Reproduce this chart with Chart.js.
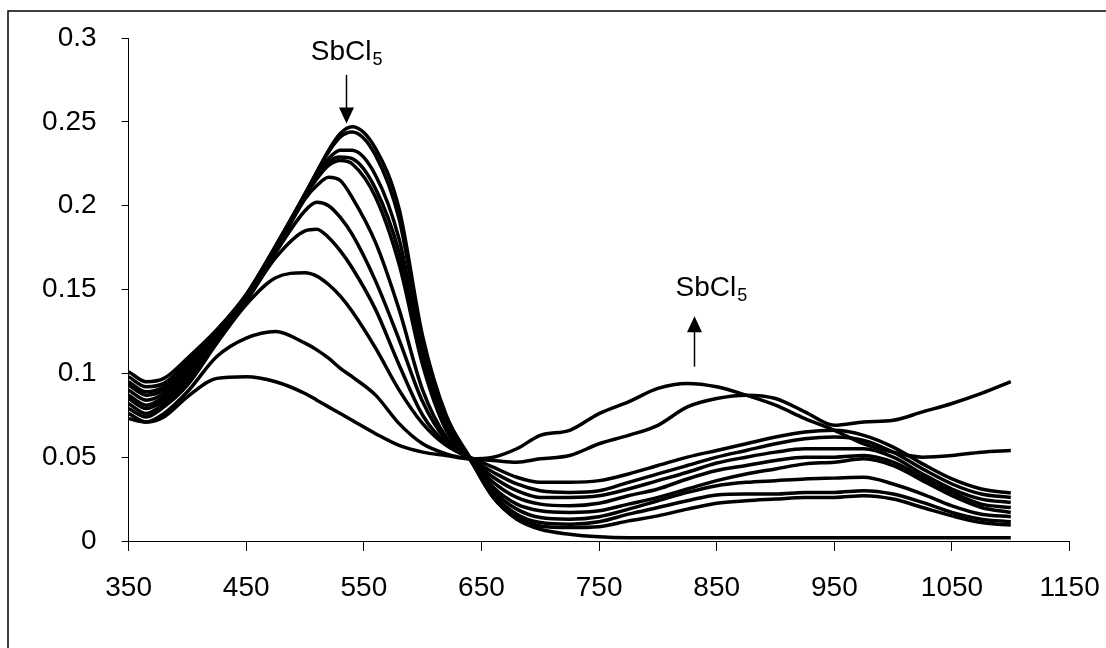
<!DOCTYPE html>
<html>
<head>
<meta charset="utf-8">
<script src="https://cdn.jsdelivr.net/npm/chart.js@4"></script>
<style>
  html, body { margin: 0; padding: 0; background: #fff; }
  canvas { display: block; }
</style>
</head>
<body>
<canvas id="espectros" width="1106" height="648"></canvas>
<script>
// wavelength grid (nm) shared by all spectra
const wavelengths = [350, 365, 380, 400, 425, 450, 475, 500, 510, 520, 530, 540, 560, 580, 600, 620, 640, 660, 680,
  700, 725, 750, 775, 800, 825, 850, 875, 900, 925, 950, 975, 1000, 1025, 1050, 1075, 1100];

// absorbance of each spectrum, from no SbCl5 to the last addition
const abs0 = [0.101, 0.095, 0.097, 0.109, 0.126, 0.147, 0.176, 0.207, 0.220, 0.233, 0.243, 0.247, 0.234, 0.198, 0.122, 0.075, 0.050, 0.026, 0.013,
  0.007, 0.004, 0.0025, 0.002, 0.002, 0.002, 0.002, 0.002, 0.002, 0.002, 0.002, 0.002, 0.002, 0.002, 0.002, 0.002, 0.002];
const abs1 = [0.098, 0.092, 0.094, 0.107, 0.125, 0.147, 0.176, 0.207, 0.220, 0.232, 0.241, 0.244, 0.230, 0.192, 0.118, 0.073, 0.049, 0.026, 0.014,
  0.009, 0.008, 0.0085, 0.012, 0.015, 0.019, 0.0225, 0.024, 0.025, 0.026, 0.026, 0.027, 0.025, 0.020, 0.015, 0.011, 0.0095];
const abs2 = [0.095, 0.089, 0.092, 0.105, 0.124, 0.146, 0.175, 0.206, 0.218, 0.228, 0.233, 0.233, 0.218, 0.180, 0.112, 0.070, 0.049, 0.028, 0.016,
  0.011, 0.010, 0.0115, 0.016, 0.020, 0.024, 0.0275, 0.028, 0.028, 0.029, 0.029, 0.030, 0.028, 0.023, 0.017, 0.013, 0.0115];
const abs3 = [0.093, 0.087, 0.090, 0.103, 0.123, 0.146, 0.175, 0.206, 0.217, 0.226, 0.229, 0.228, 0.210, 0.172, 0.108, 0.068, 0.049, 0.030, 0.019,
  0.014, 0.013, 0.0145, 0.019, 0.024, 0.029, 0.033, 0.035, 0.036, 0.037, 0.0375, 0.038, 0.034, 0.028, 0.021, 0.016, 0.0145];
const abs4 = [0.090, 0.084, 0.088, 0.101, 0.122, 0.145, 0.174, 0.206, 0.216, 0.224, 0.227, 0.225, 0.205, 0.165, 0.105, 0.066, 0.049, 0.032, 0.022,
  0.018, 0.017, 0.018, 0.022, 0.026, 0.031, 0.036, 0.040, 0.043, 0.046, 0.047, 0.049, 0.045, 0.036, 0.027, 0.020, 0.017];
const abs5 = [0.087, 0.081, 0.086, 0.099, 0.121, 0.145, 0.173, 0.204, 0.212, 0.217, 0.215, 0.205, 0.178, 0.138, 0.090, 0.062, 0.049, 0.035, 0.026,
  0.022, 0.021, 0.0225, 0.027, 0.031, 0.037, 0.042, 0.045, 0.048, 0.050, 0.050, 0.051, 0.047, 0.038, 0.029, 0.022, 0.020];
const abs6 = [0.085, 0.079, 0.084, 0.097, 0.120, 0.144, 0.172, 0.197, 0.202, 0.200, 0.193, 0.183, 0.155, 0.120, 0.083, 0.060, 0.049, 0.038, 0.030,
  0.026, 0.026, 0.027, 0.031, 0.036, 0.041, 0.0465, 0.050, 0.053, 0.055, 0.055, 0.055, 0.050, 0.040, 0.031, 0.025, 0.023];
const abs7 = [0.082, 0.076, 0.082, 0.095, 0.119, 0.143, 0.169, 0.185, 0.186, 0.181, 0.173, 0.163, 0.138, 0.105, 0.075, 0.058, 0.049, 0.041, 0.034,
  0.030, 0.029, 0.030, 0.035, 0.040, 0.045, 0.050, 0.054, 0.058, 0.061, 0.062, 0.060, 0.053, 0.043, 0.034, 0.028, 0.026];
const abs8 = [0.079, 0.074, 0.080, 0.093, 0.118, 0.141, 0.157, 0.160, 0.158, 0.153, 0.146, 0.137, 0.115, 0.090, 0.070, 0.057, 0.050, 0.044, 0.038,
  0.035, 0.035, 0.036, 0.040, 0.045, 0.050, 0.054, 0.058, 0.062, 0.065, 0.066, 0.063, 0.056, 0.046, 0.037, 0.031, 0.0286];
const abs9 = [0.076, 0.071, 0.076, 0.089, 0.110, 0.121, 0.125, 0.118, 0.114, 0.109, 0.103, 0.098, 0.087, 0.070, 0.058, 0.052, 0.049, 0.048, 0.047,
  0.049, 0.051, 0.058, 0.063, 0.069, 0.080, 0.085, 0.087, 0.085, 0.077, 0.069, 0.071, 0.072, 0.077, 0.082, 0.088, 0.095];
const abs10 = [0.073, 0.071, 0.074, 0.086, 0.097, 0.098, 0.095, 0.088, 0.084, 0.080, 0.076, 0.072, 0.064, 0.057, 0.053, 0.051, 0.049, 0.050, 0.055,
  0.063, 0.066, 0.076, 0.083, 0.091, 0.094, 0.092, 0.087, 0.081, 0.073, 0.066, 0.058, 0.053, 0.050, 0.051, 0.053, 0.054];

const espectros = [abs0, abs1, abs2, abs3, abs4, abs5, abs6, abs7, abs8, abs9, abs10];

// tick labels
const xTicks = [350, 450, 550, 650, 750, 850, 950, 1050, 1150];
const yTicks = [0, 0.05, 0.1, 0.15, 0.2, 0.25, 0.3];

// arrows: wavelength of the arrow, start and tip absorbance, label position
const flechas = [
  { x: 535, desde: 0.278, hasta: 0.249, etiquetaX: 535, etiquetaY: 0.287 },
  { x: 831, desde: 0.104, hasta: 0.134, etiquetaX: 845, etiquetaY: 0.146 }
];

const fuente = '"Liberation Sans", Arial, sans-serif';

const marco = {
  id: 'marco',
  afterDraw(chart) {
    const ctx = chart.ctx;
    ctx.save();
    ctx.strokeStyle = '#000';
    ctx.lineWidth = 1.5;
    ctx.strokeRect(8, 11, 1200, 1000);
    ctx.restore();
  }
};

const anotaciones = {
  id: 'anotaciones',
  afterDatasetsDraw(chart) {
    const ctx = chart.ctx;
    const xs = chart.scales.x, ys = chart.scales.y;
    ctx.save();
    ctx.fillStyle = '#000';
    ctx.strokeStyle = '#000';
    flechas.forEach((f) => {
      const px = Math.round(xs.getPixelForValue(f.x)) + 0.5;
      const y0 = ys.getPixelForValue(f.desde);
      const y1 = ys.getPixelForValue(f.hasta);
      const dir = y1 > y0 ? 1 : -1;
      ctx.lineWidth = 1.5;
      ctx.beginPath();
      ctx.moveTo(px, y0);
      ctx.lineTo(px, y1 - dir * 14);
      ctx.stroke();
      ctx.beginPath();
      ctx.moveTo(px, y1);
      ctx.lineTo(px - 7.5, y1 - dir * 16);
      ctx.lineTo(px + 7.5, y1 - dir * 16);
      ctx.closePath();
      ctx.fill();

      // label SbCl5 with subscript
      ctx.font = '28px ' + fuente;
      const w1 = ctx.measureText('SbCl').width;
      ctx.font = '18px ' + fuente;
      const w2 = ctx.measureText('5').width;
      const cx = xs.getPixelForValue(f.etiquetaX);
      const base = ys.getPixelForValue(f.etiquetaY);
      const left = cx - (w1 + w2) / 2;
      ctx.textBaseline = 'alphabetic';
      ctx.textAlign = 'left';
      ctx.font = '28px ' + fuente;
      ctx.fillText('SbCl', left, base);
      ctx.font = '18px ' + fuente;
      ctx.fillText('5', left + w1 + 1, base + 5);
    });
    ctx.restore();
  }
};

const data = {
  labels: wavelengths,
  datasets: espectros.map((serie, i) => ({
    label: 'espectro ' + i,
    data: serie.map((v, j) => ({ x: wavelengths[j], y: v })),
    borderColor: '#000',
    borderWidth: 3.5,
    pointRadius: 0,
    fill: false,
    cubicInterpolationMode: 'monotone'
  }))
};

const config = {
  type: 'line',
  data: data,
  options: {
    responsive: false,
    animation: false,
    layout: { padding: { left: 0, right: 36.4, top: 38, bottom: 0 } },
    plugins: { legend: { display: false }, tooltip: { enabled: false } },
    scales: {
      x: {
        type: 'linear',
        min: 350,
        max: 1150,
        afterBuildTicks: (axis) => { axis.ticks = xTicks.map((v) => ({ value: v })); },
        afterFit: (axis) => { axis.height = 107; axis.paddingLeft = 0; axis.paddingRight = 0; },
        grid: { display: true, drawOnChartArea: false, drawTicks: true, tickLength: 10, color: '#000', lineWidth: 1 },
        border: { display: true, color: '#000', width: 1 },
        ticks: {
          color: '#000', font: { family: fuente, size: 28 }, padding: 20, maxRotation: 0, autoSkip: false,
          callback: (v) => String(v)
        }
      },
      y: {
        min: 0,
        max: 0.3,
        afterBuildTicks: (axis) => { axis.ticks = yTicks.map((v) => ({ value: v })); },
        afterFit: (axis) => { axis.width = 128.6; axis.paddingTop = 0; axis.paddingBottom = 0; },
        grid: { display: true, drawOnChartArea: false, drawTicks: true, tickLength: 7, color: '#000', lineWidth: 1 },
        border: { display: true, color: '#000', width: 1 },
        ticks: {
          color: '#000', font: { family: fuente, size: 28 }, padding: 25,
          callback: (v) => String(+Number(v).toFixed(2))
        }
      }
    }
  },
  plugins: [marco, anotaciones]
};

const grafica = new Chart(document.getElementById('espectros'), config);
</script>
</body>
</html>
